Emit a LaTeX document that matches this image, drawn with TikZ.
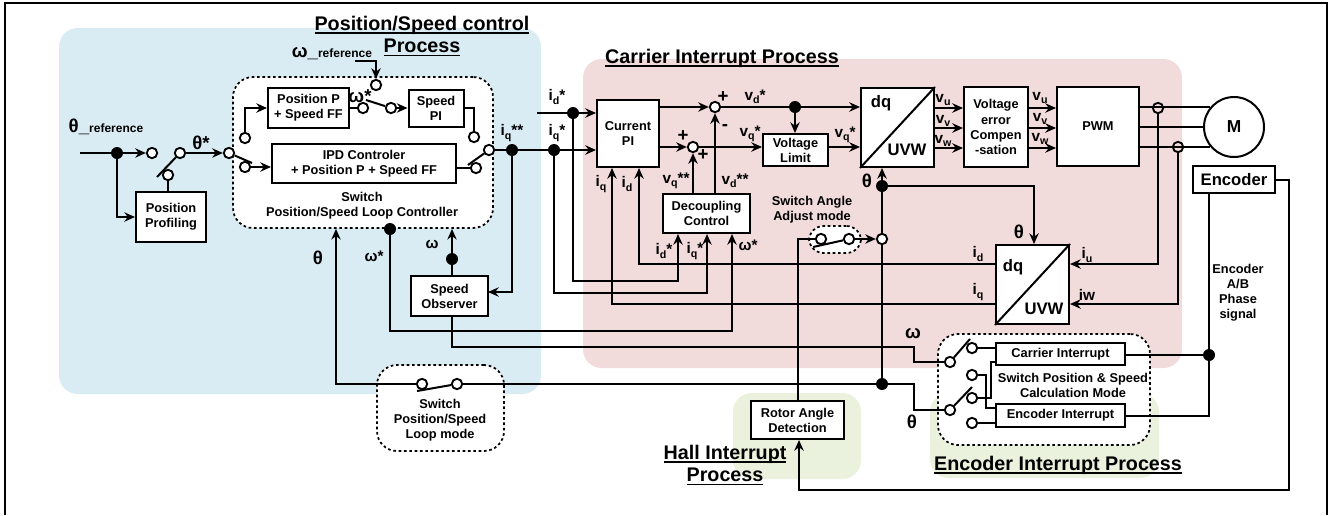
\documentclass[tikz,border=0pt]{standalone}
\usepackage{fontspec}
\setmainfont{Liberation Sans}
\usetikzlibrary{arrows.meta}
\newcommand\lowsub[1]{\raisebox{-2.5pt}{\fontsize{8}{8}\selectfont #1}}
\newcommand\bigsym[1]{{\fontsize{14}{14}\selectfont #1}}
\newcommand\tinyref[1]{{\fontsize{9}{9}\selectfont #1}}
\newcommand\ttlline[1]{\setbox0\hbox{#1}\rlap{\rule[-2.6pt]{\wd0}{1.1pt}}\box0}
\tikzset{
  every node/.style={font=\bfseries\fontsize{9.6}{11.3}\selectfont, inner sep=0pt, align=center},
  ln/.style={line width=1.5pt, line join=miter},
  arr/.style={ln, -{Stealth[length=8pt,width=7pt]}},
  bx/.style 2 args={draw, line width=1.5pt, fill=white, minimum width=#1*0.75pt, minimum height=#2*0.75pt},
  open/.style={circle, draw, line width=1.4pt, fill=white, minimum size=7.8pt},
  hollow/.style={circle, draw, line width=1.4pt, minimum size=7.8pt},
  dot/.style={circle, fill=black, minimum size=9pt},
  dashbox/.style 2 args={draw, fill=white, line width=1.3pt, dash pattern=on 2pt off 2pt, rounded corners=15pt, minimum width=#1*0.75pt, minimum height=#2*0.75pt},
  region/.style={rounded corners=14pt},
  mid/.style={font=\bfseries\fontsize{11.5}{12}\selectfont},
  big/.style={font=\bfseries\fontsize{14}{14}\selectfont},
  conv/.style={font=\bfseries\fontsize{12.5}{13}\selectfont},
  ttl/.style={font=\bfseries\fontsize{14.8}{16.8}\selectfont},
}
\begin{document}
\begin{tikzpicture}[x=0.75pt,y=-0.75pt]
\useasboundingbox (0,0) rectangle (1330,515);
% frame and process regions
\draw[line width=1.6pt] (5,515) -- (5,3) -- (1327,3) -- (1327,515);
\fill[region, fill={rgb,255:red,218;green,236;blue,243}] (59,28) rectangle (541,394);
\fill[region, fill={rgb,255:red,242;green,219;blue,219}] (583,59) rectangle (1182,368);
\fill[region, fill={rgb,255:red,234;green,241;blue,221}] (733,393) rectangle (861,479);
\fill[region, fill={rgb,255:red,234;green,241;blue,221}] (930,393) rectangle (1159,478);
% dashed groups
\node[dashbox={260}{151}] (dmain) at (363,152.5) {};
\node[dashbox={127}{86}] (dloop) at (440.5,408) {};
\node[dashbox={52}{27}, rounded corners=11pt] (dangle) at (835,239.5) {};
\node[dashbox={212}{111}] (dcalc) at (1044,389.5) {};
% boxes
\node[bx={70}{50}] (prof) at (171,217) {Position\\Profiling};
\node[bx={81}{40}] (posp) at (308.5,108) {Position P\\+ Speed FF};
\node[bx={55}{37}] (spi) at (436,108) {Speed\\PI};
\node[bx={184}{39}] (ipd) at (364,163.5) {IPD Controler\\+ Position P + Speed FF};
\node[bx={77}{40}] (obs) at (449.5,296) {Speed\\Observer};
\node[bx={62}{67}] (pi) at (628,133.5) {Current\\PI};
\node[bx={87}{39}] (dec) at (706.5,213.5) {Decoupling\\Control};
\node[bx={65}{32}] (vl) at (795.5,150) {Voltage\\Limit};
\node[bx={73}{79}] (dq1) at (897.5,127.5) {};
\node[bx={64}{80}] (verr) at (996,127) {Voltage\\error\\Compen\\-sation};
\node[bx={82}{79}] (pwm) at (1098,126.5) {PWM};
\node[circle, draw, line width=1.5pt, fill=white, minimum size=45pt, font=\bfseries\fontsize{13}{14}\selectfont] (M) at (1234,127) {M};
\node[bx={82}{27}, conv] (enc) at (1234,179.5) {Encoder};
\node[bx={73}{79}] (dq2) at (1032.5,284.5) {};
\node[bx={93}{38}] (rotor) at (797.5,420) {Rotor Angle\\Detection};
\node[bx={129}{22}] (cint) at (1060.5,354) {Carrier Interrupt};
\node[bx={129}{23}] (eint) at (1060.5,415.5) {Encoder Interrupt};
% junctions and switch contacts
\node[dot] (d1) at (117,153) {};
\node[open] (c1) at (152,153) {};
\node[open] (c2) at (180,153) {};
\node[open] (c3) at (168,175) {};
\node[open] (c4) at (229,153) {};
\node[open] (c5) at (245,167) {};
\node[open] (c6) at (245,138) {};
\node[open] (c7) at (363,108) {};
\node[open] (c8) at (391,108) {};
\node[open] (c9) at (376,85) {};
\node[open] (c10) at (474,137) {};
\node[open] (c11) at (489,150) {};
\node[open] (c12) at (476,168) {};
\node[dot] (d2) at (512,150) {};
\node[dot] (d3) at (554,150) {};
\node[dot] (d4) at (573,113) {};
\node[dot] (d5) at (452,259) {};
\node[dot] (d6) at (390,229) {};
\node[open] (c13) at (422,384) {};
\node[open] (c14) at (457,384) {};
\node[dot] (d7) at (882,384) {};
\node[open] (c15) at (882,239) {};
\node[dot] (d8) at (882,186) {};
\node[open] (c16) at (821,239) {};
\node[open] (c17) at (849,239) {};
\node[open] (s3) at (715,107) {};
\node[open] (s4) at (693,147) {};
\node[dot] (d10) at (795,107) {};
\node[dot] (d9) at (1209,355) {};
\node[hollow] (ps1) at (1158,108) {};
\node[hollow] (ps2) at (1178,147) {};
\node[open] (s1) at (950,362) {};
\node[open] (s2) at (950,410) {};
\node[open] (x1) at (972,348) {};
\node[open] (x2) at (972,375) {};
\node[open] (x3) at (972,398) {};
\node[open] (x4) at (972,423) {};
% free ends and corners
\coordinate (r0) at (80,153);
\coordinate (b1) at (157,177);
\coordinate (b2) at (252,163);
\coordinate (w0) at (355,61);
\coordinate (b3) at (366,100);
\coordinate (b4) at (468,165);
\coordinate (i0) at (537,113);
\coordinate (o1) at (488,292);
\coordinate (w2) at (914,347);
\coordinate (w4) at (732,331);
\coordinate (t0) at (336,384);
\coordinate (b5) at (417,391);
\coordinate (t1) at (914,384);
\coordinate (t2) at (1034,186);
\coordinate (b6) at (813,247);
\coordinate (e1) at (1289,490);
\coordinate (e2) at (799,490);
\coordinate (g1) at (639,264);
\coordinate (g2) at (612,304);
\coordinate (g3) at (678,281);
\coordinate (g4) at (707,293);
\coordinate (y1) at (1000,108);
\coordinate (y2) at (1000,128);
\coordinate (y3) at (1000,148);
\coordinate (b7) at (970,339);
\coordinate (b8) at (972,387);
\coordinate (k1) at (986,408);
\coordinate (k2) at (991,362);
% connectors: position / speed part
\draw[ln] (r0) -- (d1);
\draw[arr] (d1) -- (c1);
\draw[arr] (d1) |- (prof.west);
\draw[ln] (c3) -- (c3 |- prof.north);
\draw[ln] (b1) -- (c2);
\draw[arr] (c2) -- (c4);
\draw[ln] (c4) -- (b2);
\draw[arr] (c5) -- (c5 -| ipd.west);
\draw[arr] (c6) |- (posp.west);
\draw[ln] (posp.east) -- (c7);
\draw[arr] (c8) -- (spi.west);
\draw[ln] (b3) -- (c8);
\draw[arr] (w0) -| (c9);
\draw[ln] (spi.east) -| (c10);
\draw[ln] (c12 -| ipd.east) -- (c12);
\draw[ln] (b4) -- (c11);
\draw[ln] (c11) -- (d2);
\draw[ln] (d2) -- (d3);
\draw[arr] (d3) -- (d3 -| pi.west);
\draw[ln] (i0) -- (d4);
\draw[arr] (d4) -- (d4 -| pi.west);
\draw[arr] (d2) |- (o1);
\draw[ln] (d5 |- obs.north) -- (d5);
\draw[arr] (d5) -- (d5 |- dmain.south);
\draw[ln] (d5 |- obs.south) |- (w2) |- (s1);
\draw[arr] (d6) |- (w4) -- (w4 |- dec.south);
\draw[arr] (c13) -- (t0) -- (t0 |- dmain.south);
\draw[ln] (b5) -- (c14);
\draw[ln] (c14) -- (d7);
\draw[ln] (d7) -- (t1) |- (s2);
% connectors: carrier part
\draw[ln] (d7) -- (c15);
\draw[ln] (c15) -- (d8);
\draw[arr] (d8) -- (d8 |- dq1.south);
\draw[arr] (d8) -- (t2) -- (t2 |- dq2.north);
\draw[ln] (rotor.north) |- (c16);
\draw[ln] (b6) -- (c17);
\draw[arr] (c17) -- (c15);
\draw[arr] (enc.east) -| (e1) -- (e2) -- (e2 |- rotor.south);
\draw[ln] (d9 |- enc.south) -- (d9);
\draw[ln] (d9) -- (d9 -| cint.east);
\draw[ln] (d9) |- (eint.east);
\draw[arr] (s3 -| pi.east) -- (s3);
\draw[arr] (s4 -| pi.east) -- (s4);
\draw[arr] (s3) -- (s3 -| dq1.west);
\draw[arr] (d10) -- (d10 |- vl.north);
\draw[arr] (s4) -- (s4 -| vl.west);
\draw[arr] (s4 -| vl.east) -- (s4 -| dq1.west);
\draw[arr] (s4 |- dec.north) -- (s4);
\draw[arr] (s3 |- dec.north) -- (s3);
\draw[arr] (g1 -| dq2.west) -- (g1) -- (g1 |- pi.south);
\draw[arr] (g2 -| dq2.west) -- (g2) -- (g2 |- pi.south);
\draw[arr] (d4) |- (g3) -- (g3 |- dec.south);
\draw[arr] (d3) |- (g4) -- (g4 |- dec.south);
\draw[arr] (y1 -| dq1.east) -- (y1 -| verr.west);
\draw[arr] (y2 -| dq1.east) -- (y2 -| verr.west);
\draw[arr] (y3 -| dq1.east) -- (y3 -| verr.west);
\draw[arr] (y1 -| verr.east) -- (y1 -| pwm.west);
\draw[arr] (y2 -| verr.east) -- (y2 -| pwm.west);
\draw[arr] (y3 -| verr.east) -- (y3 -| pwm.west);
\draw[ln] (M.141 -| pwm.east) -- (M.141);
\draw[ln] (M.180 -| pwm.east) -- (M.180);
\draw[ln] (M.219 -| pwm.east) -- (M.219);
\draw[arr] (ps1) |- (g1 -| dq2.east);
\draw[arr] (ps2) |- (g2 -| dq2.east);
% conversion blocks
\draw[ln] (dq1.south west) -- (dq1.north east);
\draw[ln] (dq2.south west) -- (dq2.north east);
\node[conv] (dq1a) at (881,103) {dq};
\node[conv] (dq1b) at (907,150) {UVW};
\node[conv] (dq2a) at (1013,267) {dq};
\node[conv] (dq2b) at (1044,309) {UVW};
% encoder section
\draw[ln] (s1) -- (b7);
\draw[ln] (s2) -- (b8);
\draw[ln] (x1) -- (x1 -| cint.west);
\draw[ln] (x2) -| (k1) -- (k1 -| eint.west);
\draw[ln] (x3) -| (k2) -- (k2 -| cint.west);
\draw[ln] (x4) -- (x4 -| eint.west);
% titles
\node[ttl] (tpos) at (422,36) {\ttlline{Position/Speed control}\\\ttlline{Process}};
\node[ttl] (tcar) at (722,58) {\ttlline{Carrier Interrupt Process}};
\node[ttl] (thall) at (725,465) {\ttlline{Hall Interrupt}\\\ttlline{Process}};
\node[ttl] (tenc) at (1058,465) {\ttlline{Encoder Interrupt Process}};
% captions
\node (cap1) at (362,205.5) {Switch\\Position/Speed Loop Controller};
\node (cap2) at (440,420) {Switch\\Position/Speed\\Loop mode};
\node (cap3) at (812,210) {Switch Angle\\Adjust mode};
\node (cap4) at (1073,385) {Switch Position \& Speed\\Calculation Mode};
\node (cap5) at (1238,293) {Encoder\\A/B\\Phase\\signal};
% signal labels
\node (l1) at (106,127) {\bigsym{θ\_}\tinyref{reference}};
\node (l2) at (332,54) {\bigsym{ω\_}\tinyref{reference}};
\node[big] (l3) at (201,143) {θ*};
\node[big] (l4) at (360,96) {ω*};
\node[mid] (l5) at (512,133) {i\lowsub{q}**};
\node[mid] (l6) at (557,97) {i\lowsub{d}*};
\node[mid] (l7) at (557,133) {i\lowsub{q}*};
\node[big] (l8) at (318,258) {θ};
\node[mid] (l9) at (374,256) {ω*};
\node[mid] (l10) at (432,244) {ω};
\node[big] (l11) at (723,97) {+};
\node[big] (l12) at (683,136) {+};
\node[big] (l13) at (703,155) {+};
\node[big] (l14) at (725,128) {-};
\node[mid] (l15) at (755,97) {v\lowsub{d}*};
\node[mid] (l16) at (750,134) {v\lowsub{q}*};
\node[mid] (l17) at (845,135) {v\lowsub{q}*};
\node[mid] (l18) at (676,181) {v\lowsub{q}**};
\node[mid] (l19) at (735,181) {v\lowsub{d}**};
\node[mid] (l20) at (601,184) {i\lowsub{q}};
\node[mid] (l21) at (627,184) {i\lowsub{d}};
\node[mid] (l22) at (664,251) {i\lowsub{d}*};
\node[mid] (l23) at (695,251) {i\lowsub{q}*};
\node[mid] (l24) at (748,245) {ω*};
\node[big] (l25) at (867,181) {θ};
\node[big] (l26) at (1019,232) {θ};
\node[mid] (l27) at (943,100) {v\lowsub{u}};
\node[mid] (l28) at (943,121) {v\lowsub{v}};
\node[mid] (l29) at (943,141) {v\lowsub{w}};
\node[mid] (l30) at (1040,98) {v\lowsub{u}};
\node[mid] (l31) at (1040,119) {v\lowsub{v}};
\node[mid] (l32) at (1040,139) {v\lowsub{w}};
\node[mid] (l33) at (978,254) {i\lowsub{d}};
\node[mid] (l34) at (978,292) {i\lowsub{q}};
\node[mid] (l35) at (1087,255) {i\lowsub{u}};
\node[mid] (l36) at (1087,295) {iw};
\node[big] (l37) at (913,334) {ω};
\node[big] (l38) at (912,422) {θ};
\end{tikzpicture}
\end{document}
